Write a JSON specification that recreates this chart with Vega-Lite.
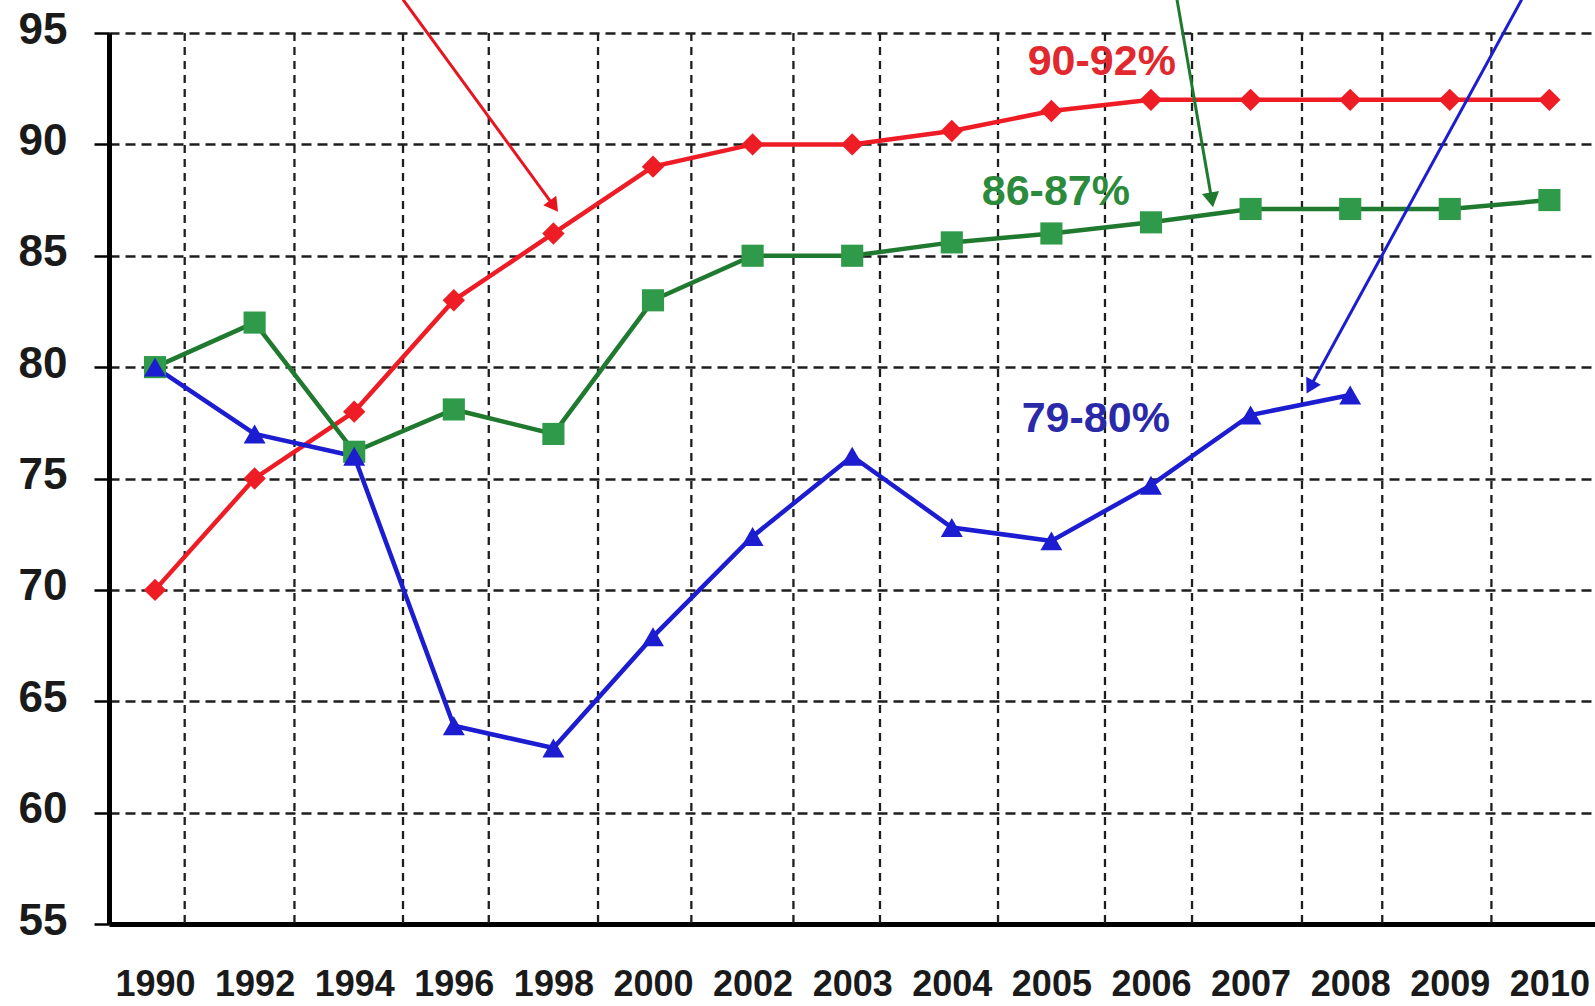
{
  "$schema": "https://vega.github.io/schema/vega-lite/v6.json",
  "width": 1486,
  "height": 891,
  "autosize": {"type": "none"},
  "padding": {"left": 109, "top": 33, "right": 0, "bottom": 82},
  "background": "white",
  "config": {"view": {"stroke": null}, "font": "Liberation Sans"},
  "datasets": {
    "series": [
      {"series": "90-92%", "year": "1990", "idx": 0, "value": 70},
      {"series": "90-92%", "year": "1992", "idx": 1, "value": 75},
      {"series": "90-92%", "year": "1994", "idx": 2, "value": 78},
      {"series": "90-92%", "year": "1996", "idx": 3, "value": 83},
      {"series": "90-92%", "year": "1998", "idx": 4, "value": 86},
      {"series": "90-92%", "year": "2000", "idx": 5, "value": 89},
      {"series": "90-92%", "year": "2002", "idx": 6, "value": 90},
      {"series": "90-92%", "year": "2003", "idx": 7, "value": 90},
      {"series": "90-92%", "year": "2004", "idx": 8, "value": 90.6},
      {"series": "90-92%", "year": "2005", "idx": 9, "value": 91.5},
      {"series": "90-92%", "year": "2006", "idx": 10, "value": 92},
      {"series": "90-92%", "year": "2007", "idx": 11, "value": 92},
      {"series": "90-92%", "year": "2008", "idx": 12, "value": 92},
      {"series": "90-92%", "year": "2009", "idx": 13, "value": 92},
      {"series": "90-92%", "year": "2010", "idx": 14, "value": 92},
      {"series": "86-87%", "year": "1990", "idx": 0, "value": 80},
      {"series": "86-87%", "year": "1992", "idx": 1, "value": 82},
      {"series": "86-87%", "year": "1994", "idx": 2, "value": 76.2},
      {"series": "86-87%", "year": "1996", "idx": 3, "value": 78.1},
      {"series": "86-87%", "year": "1998", "idx": 4, "value": 77},
      {"series": "86-87%", "year": "2000", "idx": 5, "value": 83},
      {"series": "86-87%", "year": "2002", "idx": 6, "value": 85},
      {"series": "86-87%", "year": "2003", "idx": 7, "value": 85},
      {"series": "86-87%", "year": "2004", "idx": 8, "value": 85.6},
      {"series": "86-87%", "year": "2005", "idx": 9, "value": 86},
      {"series": "86-87%", "year": "2006", "idx": 10, "value": 86.5},
      {"series": "86-87%", "year": "2007", "idx": 11, "value": 87.1},
      {"series": "86-87%", "year": "2008", "idx": 12, "value": 87.1},
      {"series": "86-87%", "year": "2009", "idx": 13, "value": 87.1},
      {"series": "86-87%", "year": "2010", "idx": 14, "value": 87.5},
      {"series": "79-80%", "year": "1990", "idx": 0, "value": 80},
      {"series": "79-80%", "year": "1992", "idx": 1, "value": 77},
      {"series": "79-80%", "year": "1994", "idx": 2, "value": 76},
      {"series": "79-80%", "year": "1996", "idx": 3, "value": 63.9},
      {"series": "79-80%", "year": "1998", "idx": 4, "value": 62.9},
      {"series": "79-80%", "year": "2000", "idx": 5, "value": 67.9},
      {"series": "79-80%", "year": "2002", "idx": 6, "value": 72.4},
      {"series": "79-80%", "year": "2003", "idx": 7, "value": 76},
      {"series": "79-80%", "year": "2004", "idx": 8, "value": 72.8},
      {"series": "79-80%", "year": "2005", "idx": 9, "value": 72.2},
      {"series": "79-80%", "year": "2006", "idx": 10, "value": 74.7},
      {"series": "79-80%", "year": "2007", "idx": 11, "value": 77.85},
      {"series": "79-80%", "year": "2008", "idx": 12, "value": 78.75}
    ],
    "vgrid": [
      {"idx": 0.298}, {"idx": 1.4}, {"idx": 2.49}, {"idx": 3.351}, {"idx": 4.448},
      {"idx": 5.385}, {"idx": 6.41}, {"idx": 7.279}, {"idx": 8.464}, {"idx": 9.538},
      {"idx": 10.412}, {"idx": 11.516}, {"idx": 12.322}, {"idx": 13.418}
    ],
    "arrows": [
      {"series": "90-92%", "end": "tail", "idx": 2.49, "value": 96.5},
      {"series": "90-92%", "end": "head", "idx": 4.005, "value": 87.23},
      {"series": "86-87%", "end": "tail", "idx": 10.261, "value": 96.5},
      {"series": "86-87%", "end": "head", "idx": 10.61, "value": 87.51},
      {"series": "79-80%", "end": "tail", "idx": 13.722, "value": 96.5},
      {"series": "79-80%", "end": "head", "idx": 11.597, "value": 79.1}
    ],
    "labels": [
      {"series": "90-92%", "idx": 9.506, "value": 93.13},
      {"series": "86-87%", "idx": 9.045, "value": 87.29},
      {"series": "79-80%", "idx": 9.446, "value": 77.1}
    ]
  },
  "resolve": {"scale": {"color": "independent", "shape": "independent", "size": "independent"}},
  "layer": [
    {
      "data": {"name": "vgrid"},
      "mark": {"type": "rule", "stroke": "#1e1e1e", "strokeWidth": 2.3, "strokeDash": [8, 6]},
      "encoding": {
        "x": {
          "field": "idx", "type": "quantitative",
          "scale": {"domain": [-0.462, 14.458], "nice": false, "zero": false},
          "axis": {
            "title": null,
            "values": [0, 1, 2, 3, 4, 5, 6, 7, 8, 9, 10, 11, 12, 13, 14],
            "labelExpr": "['1990','1992','1994','1996','1998','2000','2002','2003','2004','2005','2006','2007','2008','2009','2010'][datum.value]",
            "labelFontSize": 36,
            "labelFontWeight": "bold",
            "labelColor": "#1a1a1a",
            "labelBaseline": "alphabetic",
            "labelPadding": 71,
            "labelFlush": false,
            "labelOverlap": false,
            "ticks": false,
            "tickSize": 0,
            "grid": false,
            "domainColor": "black",
            "domainWidth": 5
          }
        }
      }
    },
    {
      "data": {"name": "series"},
      "mark": {"type": "line", "strokeWidth": 4.5},
      "encoding": {
        "x": {"field": "idx", "type": "quantitative"},
        "y": {
          "field": "value", "type": "quantitative",
          "scale": {"domain": [55, 95], "nice": false, "zero": false},
          "axis": {
            "title": null,
            "values": [55, 60, 65, 70, 75, 80, 85, 90, 95],
            "labelFontSize": 44,
            "labelFontWeight": "bold",
            "labelColor": "#1a1a1a",
            "labelPadding": 27,
            "labelOffset": -3,
            "tickSize": 15,
            "tickWidth": 2.5,
            "tickColor": "black",
            "domainColor": "black",
            "domainWidth": 5,
            "grid": true,
            "gridColor": "#1e1e1e",
            "gridWidth": 2.5,
            "gridDash": [10, 6]
          }
        },
        "color": {
          "field": "series", "type": "nominal", "legend": null,
          "scale": {"domain": ["90-92%", "86-87%", "79-80%"], "range": ["#ee1c25", "#1f7a30", "#1c1cd0"]}
        }
      }
    },
    {
      "data": {"name": "series"},
      "mark": {"type": "point", "filled": true, "opacity": 1},
      "encoding": {
        "x": {"field": "idx", "type": "quantitative"},
        "y": {"field": "value", "type": "quantitative"},
        "color": {
          "field": "series", "type": "nominal", "legend": null,
          "scale": {"domain": ["90-92%", "86-87%", "79-80%"], "range": ["#ee1c25", "#2e9a4a", "#1c1cd0"]}
        },
        "shape": {
          "field": "series", "type": "nominal", "legend": null,
          "scale": {"domain": ["90-92%", "86-87%", "79-80%"], "range": ["diamond", "square", "triangle-up"]}
        },
        "size": {
          "field": "series", "type": "nominal", "legend": null,
          "scale": {"domain": ["90-92%", "86-87%", "79-80%"], "range": [500, 480, 580]}
        }
      }
    },
    {
      "data": {"name": "arrows"},
      "mark": {"type": "line", "strokeWidth": 3},
      "encoding": {
        "x": {"field": "idx", "type": "quantitative"},
        "y": {"field": "value", "type": "quantitative"},
        "detail": {"field": "series"},
        "color": {
          "field": "series", "type": "nominal", "legend": null,
          "scale": {"domain": ["90-92%", "86-87%", "79-80%"], "range": ["#e8141e", "#1f7a30", "#1c1cd0"]}
        }
      }
    },
    {
      "data": {"name": "arrows"},
      "transform": [{"filter": "datum.end === 'head' && datum.series === '90-92%'"}],
      "mark": {"type": "point", "shape": "triangle-down", "filled": true, "opacity": 1, "size": 260, "angle": 323.8, "color": "#e8141e"},
      "encoding": {
        "x": {"field": "idx", "type": "quantitative"},
        "y": {"field": "value", "type": "quantitative"}
      }
    },
    {
      "data": {"name": "arrows"},
      "transform": [{"filter": "datum.end === 'head' && datum.series === '86-87%'"}],
      "mark": {"type": "point", "shape": "triangle-down", "filled": true, "opacity": 1, "size": 300, "angle": 350.1, "color": "#1f7a30"},
      "encoding": {
        "x": {"field": "idx", "type": "quantitative"},
        "y": {"field": "value", "type": "quantitative"}
      }
    },
    {
      "data": {"name": "arrows"},
      "transform": [{"filter": "datum.end === 'head' && datum.series === '79-80%'"}],
      "mark": {"type": "point", "shape": "triangle-down", "filled": true, "opacity": 1, "size": 280, "angle": 28.7, "color": "#1c1cd0"},
      "encoding": {
        "x": {"field": "idx", "type": "quantitative"},
        "y": {"field": "value", "type": "quantitative"}
      }
    },
    {
      "data": {"name": "labels"},
      "mark": {"type": "text", "fontSize": 43, "fontWeight": "bold", "align": "center", "baseline": "alphabetic"},
      "encoding": {
        "x": {"field": "idx", "type": "quantitative"},
        "y": {"field": "value", "type": "quantitative"},
        "text": {"field": "series"},
        "color": {
          "field": "series", "type": "nominal", "legend": null,
          "scale": {"domain": ["90-92%", "86-87%", "79-80%"], "range": ["#e0282e", "#2b8a3c", "#2a2aa8"]}
        }
      }
    },
    {
      "mark": {"type": "rule", "stroke": "#1e1e1e", "strokeWidth": 3.2, "strokeDash": [10, 6]},
      "encoding": {"y": {"datum": 75}}
    },
    {
      "mark": {"type": "rule", "stroke": "black", "strokeWidth": 5},
      "encoding": {"y": {"datum": 95}}
    }
  ]
}
